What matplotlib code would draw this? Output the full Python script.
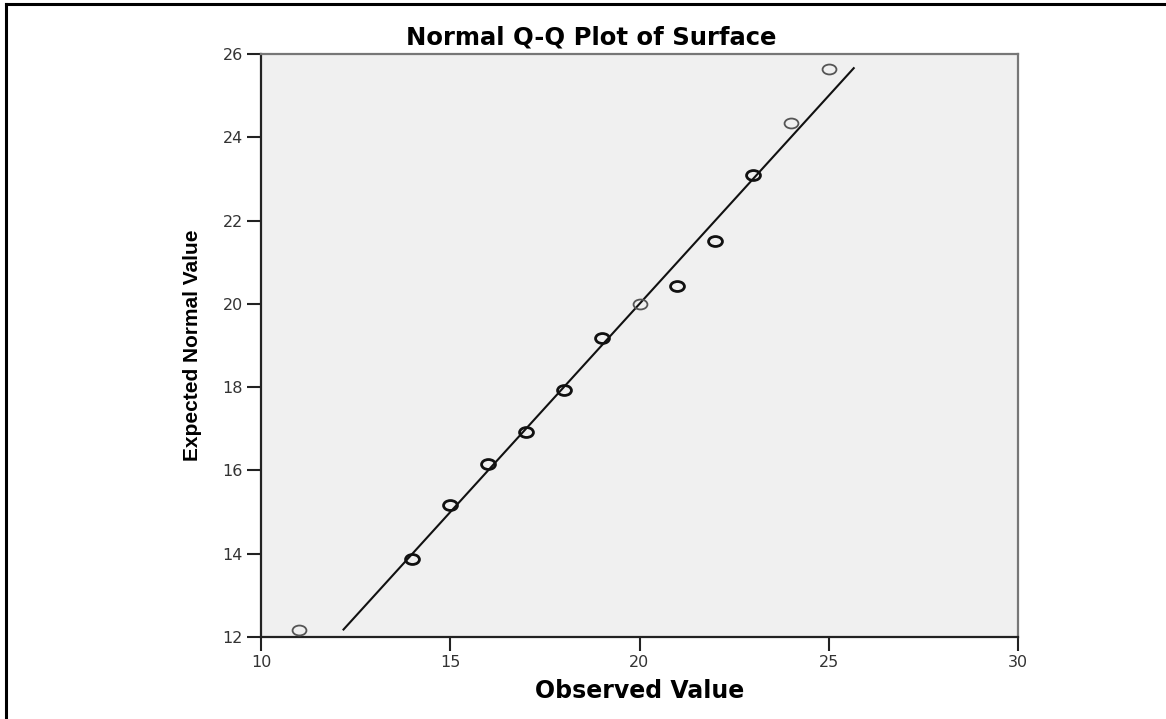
import matplotlib
matplotlib.use("Agg")
import matplotlib.pyplot as plt
from matplotlib.lines import Line2D
from matplotlib.path import Path
from matplotlib.transforms import Affine2D

# Q-Q values
observed = [11, 14, 15, 16, 17, 18, 19, 20, 21, 22, 23, 24, 25]
expected = [12.18, 13.88, 15.16, 16.16, 16.93, 17.93, 19.19, 19.99, 20.42, 21.52, 23.09, 24.35, 25.64]
tied = [False, True, True, True, True, True, True, False, True, True, True, False, False]
ref_line = [12.18, 25.66]

xticks = [10, 15, 20, 25, 30]
yticks = [12, 14, 16, 18, 20, 22, 24, 26]

fig = plt.figure(figsize=(11.66, 7.19), dpi=100)
ax = fig.add_axes([261 / 1166, 82 / 719, 757 / 1166, 583 / 719])
ax.set_facecolor("#f0f0f0")

ax.plot(ref_line, ref_line, color="#111111", lw=1.5, zorder=2)

# circles in the original are a bit wider than tall
ellipse = Path.unit_circle().transformed(Affine2D().scale(1.4, 1.0))
for x, y, t in zip(observed, expected, tied):
    ax.plot(x, y, marker=ellipse, ms=10, mfc="none",
            mec="#111111" if t else "#555555", mew=2.0 if t else 1.3,
            linestyle="none", zorder=3)

ax.set_xlim(10, 30)
ax.set_ylim(12, 26)
ax.set_xticks(xticks)
ax.set_yticks(yticks)
ax.tick_params(direction="out", length=10, width=1.5, color="#222222",
               labelsize=11.5, labelcolor="#333333", pad=3)

for s in ["left", "bottom"]:
    ax.spines[s].set_color("#222222")
    ax.spines[s].set_linewidth(1.6)
for s in ["top", "right"]:
    ax.spines[s].set_color("#777777")
    ax.spines[s].set_linewidth(1.6)

fig.text(591 / 1166, 1 - 37 / 719, "Normal Q-Q Plot of Surface",
         ha="center", va="center", fontsize=17.5, fontweight="bold")
fig.text(640 / 1166, 1 - 691 / 719, "Observed Value",
         ha="center", va="center", fontsize=17, fontweight="bold")
fig.text(193 / 1166, 1 - 345 / 719, "Expected Normal Value", rotation=90,
         ha="center", va="center", fontsize=15, fontweight="bold",
         family=["Liberation Sans", "DejaVu Sans"])

# frame round the picture (top and left only)
fig.add_artist(Line2D([6 / 1166, 1], [1 - 4 / 719, 1 - 4 / 719],
                      transform=fig.transFigure, color="black", lw=2.2))
fig.add_artist(Line2D([6 / 1166, 6 / 1166], [0, 1 - 4 / 719],
                      transform=fig.transFigure, color="black", lw=2.2))

fig.savefig("out.png", dpi=100)
